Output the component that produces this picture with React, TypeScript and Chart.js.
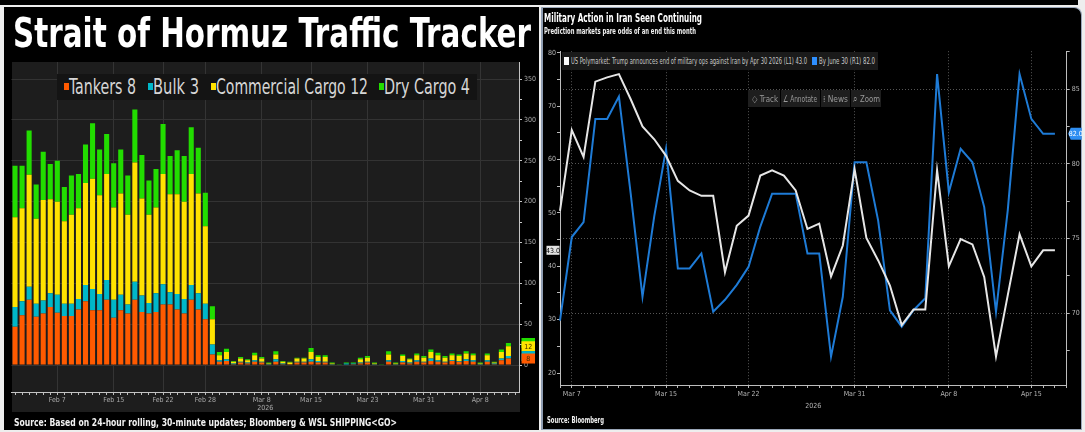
import React, { useEffect, useRef } from 'react';
import { Chart, registerables } from 'chart.js';

Chart.register(...registerables);

const FONT = "'DejaVu Sans Condensed', 'Liberation Sans Narrow', 'DejaVu Sans', 'Liberation Sans', sans-serif";

const MONTHS = ['Jan', 'Feb', 'Mar', 'Apr', 'May'];
const MONTH_DAYS = [31, 28, 31, 30, 31];
function dayLabels(month: number, day: number, count: number): string[] {
  const out: string[] = [];
  let m = month;
  let d = day;
  for (let i = 0; i < count; i++) {
    out.push(`${MONTHS[m]} ${d}`);
    d++;
    if (d > MONTH_DAYS[m]) { d = 1; m++; }
  }
  return out;
}

// ---------------- Left chart: Strait of Hormuz traffic (Feb 1 – Apr 12, last slot empty) ----------------
const barDates = dayLabels(1, 1, 72);
const barTickLabels = ['Feb 7', 'Feb 15', 'Feb 22', 'Feb 28', 'Mar 8', 'Mar 15', 'Mar 23', 'Mar 31', 'Apr 8'];
const barAxisTicks = [0, 25, 50, 75, 100, 125, 150, 175, 200, 225, 250, 275, 300, 325, 350];

const tankers = [
  47, 61, 80, 59, 63, 71, 64, 60, 60, 68, 78, 67, 67, 80, 58, 67, 63, 80, 65, 63, 65, 74, 74, 68, 63, 80, 68, 56, 13,
  4, 5, 1, 3, 2, 4, 3, 0, 4, 1, 1, 3, 3, 4, 3, 3, 0, 0, 0, 1, 2, 3, 0, 0, 4, 0, 3, 2, 4, 3, 5, 4, 3, 5, 4, 5, 4, 0, 4, 1, 6, 8,
];
const bulk = [
  24, 17, 16, 16, 16, 17, 22, 15, 15, 13, 20, 26, 20, 24, 22, 19, 11, 22, 20, 13, 23, 25, 15, 19, 18, 18, 20, 19, 12,
  2, 2, 1, 1, 1, 2, 1, 1, 3, 1, 0, 1, 1, 3, 2, 1, 1, 0, 2, 1, 1, 1, 1, 0, 2, 1, 2, 1, 2, 1, 3, 2, 1, 1, 1, 2, 2, 1, 2, 1, 2, 3,
];
const commercialCargo = [
  110, 114, 137, 104, 123, 115, 114, 101, 109, 111, 125, 135, 121, 130, 113, 124, 110, 146, 119, 108, 105, 135, 120, 122, 119, 136, 122, 95, 31,
  6, 9, 2, 4, 3, 6, 4, 1, 6, 2, 2, 4, 4, 9, 5, 6, 1, 0, 0, 0, 4, 5, 1, 0, 7, 1, 6, 4, 6, 5, 8, 6, 5, 6, 6, 7, 6, 1, 6, 1, 8, 12,
];
const dryCargo = [
  63, 52, 54, 42, 59, 43, 50, 42, 48, 42, 47, 68, 56, 49, 54, 54, 48, 65, 53, 42, 47, 61, 47, 54, 56, 57, 56, 41, 16,
  4, 4, 1, 2, 1, 3, 2, 1, 4, 1, 1, 1, 1, 5, 2, 2, 1, 1, 1, 1, 2, 2, 1, 1, 4, 1, 2, 1, 2, 2, 3, 3, 2, 2, 2, 3, 2, 1, 2, 1, 3, 4,
];

const barSeries = [
  { name: 'Tankers', data: tankers, color: '#ff5a00' },
  { name: 'Bulk', data: bulk, color: '#00b7c9' },
  { name: 'Commercial Cargo', data: commercialCargo, color: '#ffe200' },
  { name: 'Dry Cargo', data: dryCargo, color: '#22dd00' },
];

// ---------------- Right chart: Polymarket odds (Mar 6 – Apr 17, one empty slot at end) ----------------
const lineDates = dayLabels(2, 6, 44);
const lineTickLabels = ['Mar 7', 'Mar 15', 'Mar 22', 'Mar 31', 'Apr 8', 'Apr 15'];
const leftAxisTicks = [20, 25, 30, 35, 40, 45, 50, 55, 60, 65, 70, 75, 80];
const rightAxisTicks = [67.5, 70, 72.5, 75, 77.5, 80, 82.5, 85, 87.5];

const polyAprilOdds = [
  50.4, 65.5, 60.5, 74.6, 75.4, 76.0, 71.3, 66.2, 63.8, 60.7, 56.0, 54.2, 53.2, 53.2, 38.9, 47.6, 49.5, 57.0, 58.0, 57.0,
  54.2, 47.0, 48.0, 38.1, 43.9, 58.2, 45.3, 41.1, 36.4, 29.0, 31.9, 31.9, 58.0, 40.0, 45.1, 44.1, 38.0, 23.1, 34.6, 46.0,
  40.0, 43.0, 43.0,
];
const polyJuneOdds = [
  69.5, 75.1, 76.1, 83.0, 83.0, 84.5, 78.0, 71.1, 76.5, 81.0, 73.0, 73.0, 74.0, 70.1, 70.9, 71.9, 73.1, 75.8, 78.0, 78.0,
  78.0, 74.0, 74.0, 67.1, 71.1, 80.1, 80.1, 76.2, 70.2, 69.1, 70.2, 71.0, 86.0, 78.1, 81.0, 80.1, 77.1, 70.1, 76.9, 86.0,
  83.0, 82.0, 82.0,
];
const aprilName = 'US Polymarket: Trump announces end of military ops against Iran by Apr 30 2026 (L1)';
const juneName = 'By June 30 (R1)';

const measurer: CanvasRenderingContext2D | null =
  typeof document !== 'undefined' ? document.createElement('canvas').getContext('2d') : null;

function FitText(props: { text: string; left: number; baseline: number; width: number; size: number; bold?: boolean; color: string }) {
  const { text, left, baseline, width, size, bold, color } = props;
  const weight = bold ? 'bold' : 'normal';
  let sx = 1;
  if (measurer) {
    measurer.font = `${weight} ${size}px ${FONT}`;
    const w = measurer.measureText(text).width;
    if (w > 0) sx = width / w;
  }
  return (
    <div
      style={{
        position: 'absolute', left, top: baseline - 0.846 * size, fontFamily: FONT, fontSize: size,
        fontWeight: weight as any, lineHeight: `${size}px`, color, whiteSpace: 'nowrap',
        transform: `scaleX(${sx})`, transformOrigin: '0 0',
      }}
    >
      {text}
    </div>
  );
}

function Box(props: { left: number; top: number; width: number; height: number; bg: string; style?: any }) {
  const { left, top, width, height, bg, style } = props;
  return <div style={{ position: 'absolute', left, top, width, height, background: bg, ...(style || {}) }} />;
}

const TICK_COLOR = '#a9a9a9';

export default function App() {
  const leftRef = useRef<HTMLCanvasElement>(null);
  const rightRef = useRef<HTMLCanvasElement>(null);

  useEffect(() => {
    Chart.defaults.font.family = FONT;
    const last = tankers.length - 1;

    const barTagPlugin = {
      id: 'barTags',
      afterDraw(chart: any) {
        const { ctx } = chart;
        const ys = chart.scales.y;
        const x0 = ys.left + 2.5;
        let cum = 0;
        const tags = barSeries.map((s) => { cum += s.data[last]; return { color: s.color, top: cum, val: s.data[last], name: s.name }; });
        const order = [3, 2, 1, 0];
        ctx.save();
        order.forEach((i) => {
          const t = tags[i];
          const y = ys.getPixelForValue(t.top);
          ctx.fillStyle = t.color;
          ctx.fillRect(x0, y - 5, 13.5, 10);
          if (t.name === 'Tankers' || t.name === 'Commercial Cargo') {
            ctx.fillStyle = '#3a2a00';
            ctx.font = `7px ${FONT}`;
            ctx.textAlign = 'center';
            ctx.textBaseline = 'middle';
            ctx.fillText(String(t.val), x0 + 6.75, y + 0.5);
          }
        });
        ctx.restore();
      },
    };

    const leftChart = new Chart(leftRef.current as HTMLCanvasElement, {
      type: 'bar',
      data: {
        labels: barDates,
        datasets: barSeries.map((s) => ({
          label: s.name, data: s.data, backgroundColor: s.color, borderWidth: 0,
          barPercentage: 0.72, categoryPercentage: 1.0, stack: 'traffic',
        })),
      },
      options: {
        responsive: false, animation: false, devicePixelRatio: 1,
        layout: { padding: { left: 7.5, top: 7, right: 0, bottom: 0 } },
        plugins: { legend: { display: false }, tooltip: { enabled: false } },
        scales: {
          x: {
            stacked: true, offset: true,
            grid: {
              offset: false, drawTicks: true, tickLength: 3, tickColor: '#bdbdbd',
              color: (c: any) => (barTickLabels.includes(barDates[c.index]) ? '#343434' : 'rgba(0,0,0,0)'),
            },
            border: { display: true, color: '#c4c4c4' },
            ticks: {
              autoSkip: false, maxRotation: 0, minRotation: 0, padding: 1, color: TICK_COLOR, font: { size: 7 },
              callback: (_v: any, i: number) => (barTickLabels.includes(barDates[i]) ? barDates[i] : ''),
            },
            title: { display: true, text: '2026', color: TICK_COLOR, font: { size: 7 }, padding: { top: 0, bottom: 15.3 } },
            afterFit: (s: any) => { s.height = 36; },
          },
          y: {
            stacked: true, position: 'right', min: -33, max: 371,
            afterBuildTicks: (s: any) => { s.ticks = barAxisTicks.map((v) => ({ value: v })); },
            grid: {
              drawTicks: true, tickLength: 3, tickColor: '#c8c8c8',
              color: (c: any) => (c.tick && c.tick.value % 50 === 0 ? '#333333' : 'rgba(0,0,0,0)'),
            },
            border: { display: true, color: '#c4c4c4' },
            ticks: {
              padding: 2, color: TICK_COLOR, font: { size: 7 },
              callback: (v: any) => (Number(v) % 50 === 0 ? String(v) : ''),
            },
            afterFit: (s: any) => { s.width = 20; },
          },
        },
      },
      plugins: [barTagPlugin],
    } as any);

    const lineTagPlugin = {
      id: 'lineTags',
      afterDraw(chart: any) {
        const { ctx } = chart;
        const yl = chart.scales.yL;
        const yr = chart.scales.yR;
        const wv = polyAprilOdds[polyAprilOdds.length - 1];
        const bv = polyJuneOdds[polyJuneOdds.length - 1];
        const yw = yl.getPixelForValue(wv);
        const yb = yr.getPixelForValue(bv);
        ctx.save();
        ctx.font = `7px ${FONT}`;
        ctx.textAlign = 'center';
        ctx.textBaseline = 'middle';
        ctx.fillStyle = '#e4e4e4';
        ctx.fillRect(yl.right - 13.5, yw - 4.5, 13, 9);
        ctx.fillStyle = '#000';
        ctx.fillText(wv.toFixed(1), yl.right - 7, yw + 0.5);
        ctx.fillStyle = '#2f8ef2';
        ctx.beginPath();
        ctx.moveTo(yr.left + 1.5, yb);
        ctx.lineTo(yr.left + 4, yb - 6);
        ctx.lineTo(yr.left + 15, yb - 6);
        ctx.lineTo(yr.left + 15, yb + 6);
        ctx.lineTo(yr.left + 4, yb + 6);
        ctx.closePath();
        ctx.fill();
        ctx.fillStyle = '#ffffff';
        ctx.fillText(bv.toFixed(1), yr.left + 9, yb + 0.5);
        ctx.restore();
      },
    };

    const rightChart = new Chart(rightRef.current as HTMLCanvasElement, {
      type: 'line',
      data: {
        labels: lineDates,
        datasets: [
          { label: aprilName, data: polyAprilOdds, yAxisID: 'yL', borderColor: '#e6e6e6', borderWidth: 2, pointRadius: 0, tension: 0 },
          { label: juneName, data: polyJuneOdds, yAxisID: 'yR', borderColor: '#1e7bd6', borderWidth: 2, pointRadius: 0, tension: 0 },
        ],
      },
      options: {
        responsive: false, animation: false, devicePixelRatio: 1,
        layout: { padding: { left: 0, top: 5, right: 0, bottom: 0 } },
        plugins: { legend: { display: false }, tooltip: { enabled: false } },
        scales: {
          x: {
            offset: false,
            grid: {
              drawTicks: true, tickLength: 3, tickColor: '#bbbbbb',
              color: (c: any) => (lineTickLabels.includes(lineDates[c.index]) ? '#555555' : 'rgba(0,0,0,0)'),
            },
            border: { display: true, color: '#bdbdbd', dash: [1, 2] },
            ticks: {
              autoSkip: false, maxRotation: 0, minRotation: 0, padding: 2, color: '#b4b4b4', font: { size: 7 },
              callback: (_v: any, i: number) => (lineTickLabels.includes(lineDates[i]) ? lineDates[i] : ''),
            },
            title: { display: true, text: '2026', color: '#b4b4b4', font: { size: 7 }, padding: { top: 0, bottom: 19.3 } },
            afterFit: (s: any) => { s.height = 45; },
          },
          yL: {
            position: 'left', min: 17.76, max: 80.3,
            afterBuildTicks: (s: any) => { s.ticks = leftAxisTicks.map((v) => ({ value: v })); },
            grid: { drawOnChartArea: false, drawTicks: true, tickLength: 3, tickColor: '#bbbbbb' },
            border: { display: true, color: '#bdbdbd' },
            ticks: { padding: 1, color: '#b4b4b4', font: { size: 7 }, callback: (v: any) => (Number(v) % 10 === 0 ? String(v) : '') },
            afterFit: (s: any) => { s.width = 19; },
          },
          yR: {
            position: 'right', min: 65.2, max: 87.53,
            afterBuildTicks: (s: any) => { s.ticks = rightAxisTicks.map((v) => ({ value: v })); },
            grid: {
              drawTicks: true, tickLength: 3, tickColor: '#bbbbbb',
              color: (c: any) => (c.tick && c.tick.value % 5 === 0 ? '#555555' : 'rgba(0,0,0,0)'),
            },
            border: { display: true, color: '#bdbdbd', dash: [1, 2] },
            ticks: { padding: 2, color: '#b4b4b4', font: { size: 7 }, callback: (v: any) => (Number(v) % 5 === 0 ? String(v) : '') },
            afterFit: (s: any) => { s.width = 15.3; },
          },
        },
      },
      plugins: [lineTagPlugin],
    } as any);

    return () => { leftChart.destroy(); rightChart.destroy(); };
  }, []);

  const lastIdx = tankers.length - 1;
  const legendPos = [
    { sq: 64, x: 69, w: 67 },
    { sq: 148, x: 153, w: 46 },
    { sq: 211, x: 216, w: 152 },
    { sq: 379, x: 384, w: 86 },
  ];

  return (
    <div style={{ position: 'fixed', left: 0, top: 0, width: 1085, height: 432, background: '#eeeeee', overflow: 'hidden' }}>
      {/* top strip */}
      <Box left={0} top={0} width={1078} height={5} bg="#000" />
      {/* left panel */}
      <Box left={4} top={7} width={535} height={423} bg="#000" />
      <Box left={12} top={62} width={508} height={350} bg="#1d1d1d" />
      {/* right panel */}
      <Box left={541} top={7} width={541} height={423} bg="#000"
        style={{ border: '1px solid #9aa6b8', borderLeft: '2px solid #8f9db2', borderTopRightRadius: 8, boxSizing: 'border-box' }} />

      <canvas ref={leftRef} width={535} height={373} style={{ position: 'absolute', left: 4, top: 55 }} />
      <canvas ref={rightRef} width={541} height={385} style={{ position: 'absolute', left: 541, top: 45 }} />

      {/* left texts */}
      <FitText text="Strait of Hormuz Traffic Tracker" left={13} baseline={48} width={518} size={41} bold color="#ffffff" />
      <Box left={57} top={74} width={420} height={26} bg="#141414" />
      {barSeries.map((s, i) => (
        <React.Fragment key={s.name}>
          <Box left={legendPos[i].sq} top={83} width={5} height={7} bg={s.color} />
          <FitText text={`${s.name} ${s.data[lastIdx]}`} left={legendPos[i].x} baseline={95} width={legendPos[i].w} size={21} color="#d6d6d6" />
        </React.Fragment>
      ))}
      <FitText text="Source: Based on 24-hour rolling, 30-minute updates; Bloomberg & WSL SHIPPING<GO>" left={14} baseline={426} width={383} size={10} bold color="#f2f2f2" />

      {/* right texts */}
      <FitText text="Military Action in Iran Seen Continuing" left={544} baseline={22.5} width={158} size={12} bold color="#ffffff" />
      <FitText text="Prediction markets pare odds of an end this month" left={544} baseline={34.5} width={152} size={8.5} bold color="#f0f0f0" />
      <Box left={562} top={52} width={316} height={18} bg="#1a1a1a" />
      <Box left={564} top={57} width={5} height={8} bg="#ffffff" />
      <FitText text={`${aprilName} ${polyAprilOdds[polyAprilOdds.length - 1].toFixed(1)}`} left={571} baseline={64.5} width={236} size={9.5} color="#c8c8c8" />
      <Box left={812} top={57} width={5} height={8} bg="#2e8fff" />
      <FitText text={`${juneName} ${polyJuneOdds[polyJuneOdds.length - 1].toFixed(1)}`} left={819} baseline={64.5} width={56} size={9.5} color="#c8c8c8" />

      <Box left={748} top={90} width={32} height={17} bg="#1e1e1e" />
      <Box left={781} top={90} width={39} height={17} bg="#1e1e1e" />
      <Box left={821} top={90} width={29} height={17} bg="#1e1e1e" />
      <Box left={851} top={90} width={30} height={17} bg="#1e1e1e" />
      <FitText text="◇ Track" left={752} baseline={102} width={26} size={9.5} color="#9a9a9a" />
      <FitText text="∠ Annotate" left={783} baseline={102} width={34} size={9.5} color="#9a9a9a" />
      <FitText text="⁞ News" left={823} baseline={102} width={25} size={9.5} color="#9a9a9a" />
      <FitText text="⌕ Zoom" left={853} baseline={102} width={27} size={9.5} color="#9a9a9a" />

      <FitText text="Source: Bloomberg" left={547} baseline={424} width={57} size={8} bold color="#f0f0f0" />
    </div>
  );
}
